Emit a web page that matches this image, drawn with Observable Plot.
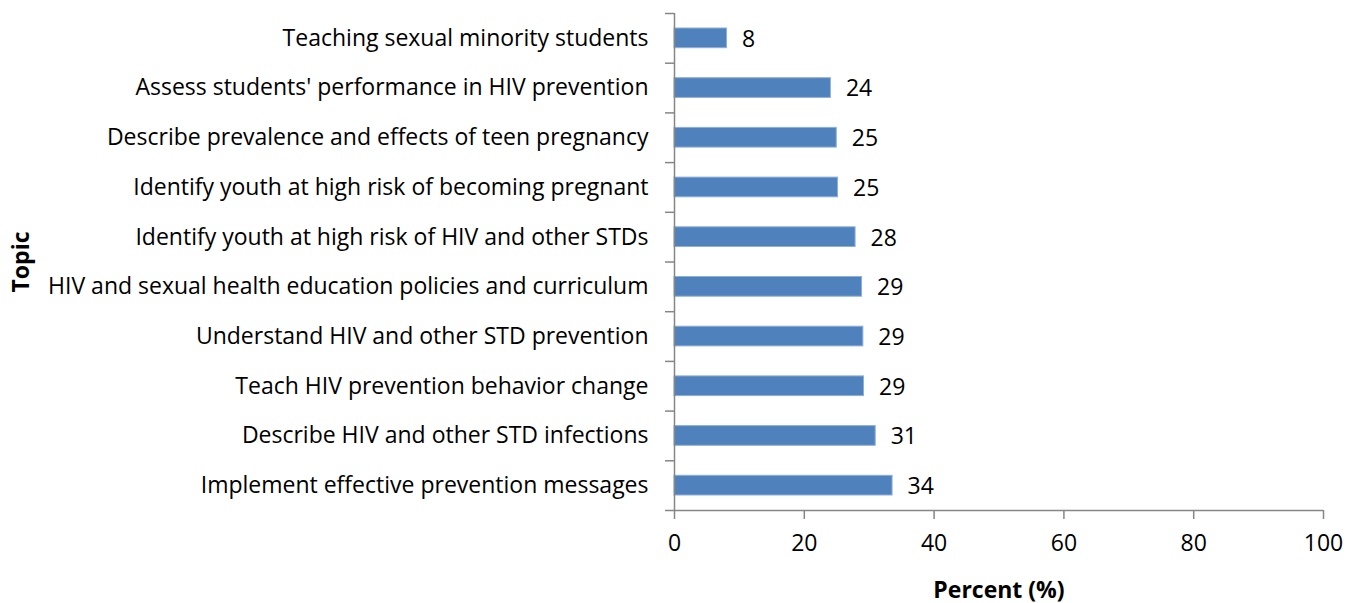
<!DOCTYPE html>
<html>
<head>
<meta charset="utf-8">
<script src="https://cdn.jsdelivr.net/npm/d3@7"></script>
<script src="https://cdn.jsdelivr.net/npm/@observablehq/plot@0.6"></script>
<style>
  html, body { margin: 0; padding: 0; background: #fff; }
</style>
</head>
<body>
<div id="chart"></div>
<script>
const topics = [
  "Teaching sexual minority students",
  "Assess students' performance in HIV prevention",
  "Describe prevalence and effects of teen pregnancy",
  "Identify youth at high risk of becoming pregnant",
  "Identify youth at high risk of HIV and other STDs",
  "HIV and sexual health education policies and curriculum",
  "Understand HIV and other STD prevention",
  "Teach HIV prevention behavior change",
  "Describe HIV and other STD infections",
  "Implement effective prevention messages"
];
const percents = [8.1, 24.1, 25.0, 25.2, 27.9, 28.9, 29.1, 29.2, 31.0, 33.6];
const valueLabels = ["8", "24", "25", "25", "28", "29", "29", "29", "31", "34"];
const xTicks = [0, 20, 40, 60, 80, 100];
const xTitle = "Percent (%)";
const yTitle = "Topic";

const rows = topics.map((t, i) => ({topic: t, i, value: percents[i], label: valueLabels[i]}));
const bandEdges = d3.range(topics.length + 1);
const bandCenters = rows.map(d => d.i + 0.5);

const axisColor = "#868686";
const barColor = "#4F81BD";

const chart = Plot.plot({
  width: 1356,
  height: 603,
  marginLeft: 674,
  marginRight: 33,
  marginTop: 13,
  marginBottom: 93,
  style: {fontFamily: "'Open Sans', sans-serif", fontSize: "23px", color: "#000", background: "#fff"},
  x: {domain: [0, 100]},
  y: {domain: [0, topics.length], reverse: true},
  marks: [
    Plot.rectX(rows, {x1: 0, x2: "value", y1: "i", y2: d => d.i + 1, insetTop: 15, insetBottom: 15, fill: barColor, stroke: "#8DAFD8", strokeWidth: 1}),
    Plot.text(rows, {x: "value", y: d => d.i + 0.5, text: "label", textAnchor: "start", dx: 15, dy: 1, fill: "#000"}),
    Plot.ruleX([0], {stroke: axisColor, strokeWidth: 1.5}),
    Plot.ruleY([topics.length], {stroke: axisColor, strokeWidth: 1.5}),
    Plot.axisY({ticks: bandEdges, tickSize: 9, tickFormat: () => "", label: null, stroke: axisColor, strokeWidth: 1.5}),
    Plot.axisY({ticks: bandCenters, tickSize: 0, tickPadding: 26, tickFormat: d => topics[Math.floor(d)], label: null, fill: "#000"}),
    Plot.axisX({ticks: xTicks, tickSize: 9, tickPadding: 15, stroke: axisColor, strokeWidth: 1.5, label: null, fill: "#000"}),
    Plot.text([xTitle], {frameAnchor: "bottom", dy: 87, fontWeight: "bold", fill: "#000"}),
    Plot.text([yTitle], {frameAnchor: "left", dx: -653, rotate: -90, textAnchor: "middle", fontWeight: "bold", fill: "#000"})
  ]
});
document.getElementById("chart").appendChild(chart);
</script>
</body>
</html>
